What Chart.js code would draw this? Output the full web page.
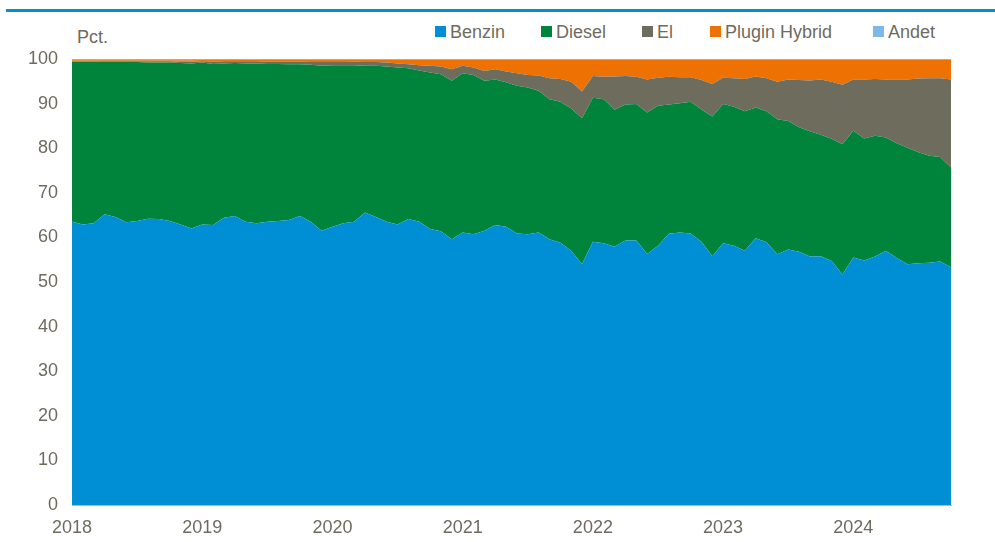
<!DOCTYPE html>
<html>
<head>
<meta charset="utf-8">
<script src="https://cdn.jsdelivr.net/npm/chart.js@4.4.1/dist/chart.umd.min.js"></script>
<style>
  html, body { margin: 0; padding: 0; background: #ffffff; }
  body { width: 995px; height: 542px; overflow: hidden; position: relative;
         font-family: "Liberation Sans", Arial, sans-serif; color: #6e6b5e; }
  #rule { position: absolute; left: 6px; top: 9px; width: 989px; height: 3px; background: #0090d4; }
  #unit { position: absolute; left: 77px; top: 27px; font-size: 18px; line-height: 20px; }
  #legend { position: absolute; top: 22px; left: 0; width: 995px; height: 22px; }
  .item { position: absolute; top: 0; font-size: 18px; line-height: 20px; white-space: nowrap; }
  .box { display: inline-block; width: 11px; height: 11px; margin-right: 4px; vertical-align: 1px; }
  #chartBox { position: absolute; left: 0; top: 0; width: 995px; height: 542px; }
</style>
</head>
<body>
<div id="rule"></div>
<div id="unit">Pct.</div>
<div id="legend"></div>
<div id="chartBox"><canvas id="c" width="995" height="542"></canvas></div>
<script>
// ---- Data (monthly shares, pct.) ----
const categories = [
  "2018-01","2018-02","2018-03","2018-04","2018-05","2018-06","2018-07","2018-08","2018-09","2018-10","2018-11","2018-12",
  "2019-01","2019-02","2019-03","2019-04","2019-05","2019-06","2019-07","2019-08","2019-09","2019-10","2019-11","2019-12",
  "2020-01","2020-02","2020-03","2020-04","2020-05","2020-06","2020-07","2020-08","2020-09","2020-10","2020-11","2020-12",
  "2021-01","2021-02","2021-03","2021-04","2021-05","2021-06","2021-07","2021-08","2021-09","2021-10","2021-11","2021-12",
  "2022-01","2022-02","2022-03","2022-04","2022-05","2022-06","2022-07","2022-08","2022-09","2022-10","2022-11","2022-12",
  "2023-01","2023-02","2023-03","2023-04","2023-05","2023-06","2023-07","2023-08","2023-09","2023-10","2023-11","2023-12",
  "2024-01","2024-02","2024-03","2024-04","2024-05","2024-06","2024-07","2024-08","2024-09","2024-10"
];
const yearTickLabels = ["2018","2019","2020","2021","2022","2023","2024"];
const yTickValues = [0,10,20,30,40,50,60,70,80,90,100];
const seriesNames = ["Benzin","Diesel","El","Plugin Hybrid","Andet"];

const benzin = [
  63.5,62.9,63.2,65.2,64.6,63.4,63.7,64.2,64.1,63.7,62.9,62.0,
  62.9,62.8,64.4,64.8,63.5,63.2,63.5,63.7,63.9,64.8,63.5,61.5,
  62.4,63.2,63.5,65.6,64.6,63.5,62.9,64.1,63.5,61.9,61.4,59.6,
  61.1,60.7,61.5,62.8,62.4,60.9,60.7,61.1,59.6,58.8,57.0,54.0,
  59.0,58.7,57.9,59.3,59.3,56.3,58.1,60.8,61.1,60.9,59.0,55.8,
  58.7,58.1,57.0,59.8,58.9,56.2,57.3,56.8,55.7,55.8,54.7,51.7,
  55.5,54.8,55.7,57.0,55.4,54.0,54.2,54.3,54.6,53.3
];
const diesel = [
  35.9,36.5,36.2,34.1,34.7,35.9,35.6,35.0,35.1,35.5,36.2,37.0,
  36.3,36.1,34.6,34.3,35.5,35.8,35.4,35.2,34.9,34.0,35.2,37.0,
  36.2,35.4,35.1,32.9,33.9,34.8,35.2,33.8,33.9,35.1,35.2,35.5,
  35.7,35.7,33.6,32.6,32.4,33.1,32.9,31.8,31.4,31.6,31.9,32.7,
  32.3,32.3,30.7,30.5,30.6,31.7,31.4,29.0,29.0,29.5,29.7,31.3,
  31.2,31.2,31.3,29.3,29.4,30.3,28.8,27.9,28.1,27.2,27.4,29.2,
  28.4,27.4,27.1,25.4,25.7,26.1,24.9,24.0,23.4,22.4
];
const el = [
  0.1,0.1,0.1,0.2,0.2,0.2,0.2,0.3,0.3,0.3,0.3,0.4,
  0.3,0.5,0.5,0.4,0.5,0.5,0.5,0.5,0.6,0.6,0.6,0.8,
  0.7,0.7,0.8,0.8,0.8,0.9,0.9,0.9,1.2,1.5,1.7,2.6,
  1.7,1.7,2.2,2.3,2.4,2.8,2.8,3.4,4.7,5.1,6.0,6.0,
  4.9,5.0,7.5,6.4,6.1,7.4,6.3,6.2,5.8,5.5,6.6,7.3,
  5.9,6.4,7.2,7.0,7.4,8.4,9.3,10.6,11.4,12.4,12.8,13.3,
  11.5,13.2,12.7,13.0,14.3,15.3,16.5,17.4,17.7,19.7
];
const pluginHybrid = [
  0.2,0.2,0.2,0.2,0.2,0.2,0.2,0.2,0.2,0.2,0.3,0.3,
  0.3,0.4,0.3,0.3,0.3,0.3,0.4,0.4,0.4,0.4,0.5,0.5,
  0.5,0.5,0.4,0.5,0.5,0.6,0.8,1.0,1.2,1.3,1.5,2.1,
  1.3,1.7,2.5,2.1,2.6,3.0,3.4,3.5,4.1,4.3,4.9,7.1,
  3.6,3.8,3.7,3.6,3.8,4.4,4.0,3.8,3.9,3.9,4.5,5.4,
  4.0,4.1,4.3,3.7,4.1,4.9,4.4,4.5,4.6,4.4,4.9,5.6,
  4.4,4.4,4.3,4.4,4.4,4.4,4.2,4.1,4.1,4.4
];
const andet = [
  0.3,0.3,0.3,0.3,0.3,0.3,0.3,0.3,0.3,0.3,0.3,0.3,
  0.2,0.2,0.2,0.2,0.2,0.2,0.2,0.2,0.2,0.2,0.2,0.2,
  0.2,0.2,0.2,0.2,0.2,0.2,0.2,0.2,0.2,0.2,0.2,0.2,
  0.2,0.2,0.2,0.2,0.2,0.2,0.2,0.2,0.2,0.2,0.2,0.2,
  0.2,0.2,0.2,0.2,0.2,0.2,0.2,0.2,0.2,0.2,0.2,0.2,
  0.2,0.2,0.2,0.2,0.2,0.2,0.2,0.2,0.2,0.2,0.2,0.2,
  0.2,0.2,0.2,0.2,0.2,0.2,0.2,0.2,0.2,0.2
];

// ---- Styles ----
const colors = ["#008fd5", "#00843b", "#6e6c5c", "#ee7203", "#7db9e8"];
const textColor = "#6e6b5e";
const fontFamily = '"Liberation Sans", Arial, sans-serif';
const legendLeft = [435, 541, 642, 710, 873];

// HTML legend
const lg = document.getElementById("legend");
seriesNames.forEach((name, i) => {
  const d = document.createElement("div");
  d.className = "item";
  d.style.left = legendLeft[i] + "px";
  const b = document.createElement("span");
  b.className = "box";
  b.style.background = colors[i];
  d.appendChild(b);
  d.appendChild(document.createTextNode(name));
  lg.appendChild(d);
});

const seriesData = [benzin, diesel, el, pluginHybrid, andet];
const datasets = seriesNames.map((name, i) => ({
  label: name,
  data: seriesData[i],
  backgroundColor: colors[i],
  borderColor: colors[i],
  borderWidth: 0,
  pointRadius: 0,
  pointHoverRadius: 0,
  tension: 0,
  fill: i === 0 ? "origin" : "-1"
}));

new Chart(document.getElementById("c"), {
  type: "line",
  data: { labels: categories, datasets },
  options: {
    responsive: false,
    animation: false,
    events: [],
    layout: { padding: { left: 0, right: 44, top: 59, bottom: 0 } },
    plugins: { legend: { display: false }, tooltip: { enabled: false }, title: { display: false } },
    elements: { line: { borderWidth: 0 } },
    scales: {
      x: {
        type: "category",
        offset: false,
        grid: { display: false, drawTicks: false },
        border: { display: true, color: "#b8b8b8", width: 1 },
        ticks: {
          autoSkip: false,
          maxRotation: 0,
          minRotation: 0,
          padding: 12,
          color: textColor,
          font: { family: fontFamily, size: 18 },
          callback: function (val, idx) {
            const lab = categories[idx];
            return lab.endsWith("-01") ? yearTickLabels[yearTickLabels.indexOf(lab.slice(0, 4))] : null;
          }
        },
        afterFit: function (s) { s.height = 37; }
      },
      y: {
        stacked: true,
        min: 0,
        max: 100,
        grid: { display: false, drawTicks: false },
        border: { display: false },
        afterBuildTicks: function (s) { s.ticks = yTickValues.map(v => ({ value: v })); },
        ticks: {
          padding: 14,
          color: textColor,
          font: { family: fontFamily, size: 18 }
        },
        afterFit: function (s) { s.width = 72; }
      }
    }
  }
});
</script>
</body>
</html>
